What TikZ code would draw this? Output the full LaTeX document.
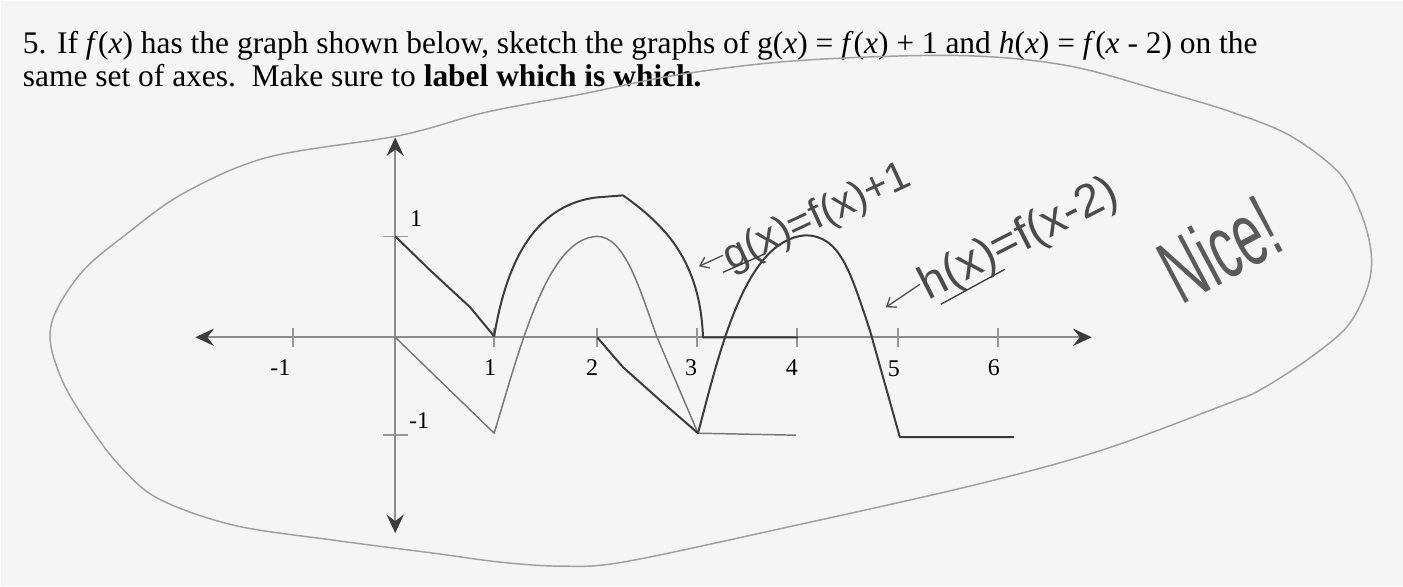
\documentclass[tikz,border=0pt]{standalone}
\usepackage{fontspec}
\setmainfont{Liberation Serif}
\newfontfamily\handfont{Liberation Sans}
\usetikzlibrary{arrows.meta}

\tikzset{every picture/.style={line width=0.75pt}}
\tikzset{
  axisline/.style={color={rgb, 255:red, 140; green, 140; blue, 140 }, line width=1.5pt,
    {Stealth[length=14pt,width=13pt,inset=5pt,color={rgb, 255:red, 60; green, 60; blue, 60 }]}-{Stealth[length=14pt,width=13pt,inset=5pt,color={rgb, 255:red, 60; green, 60; blue, 60 }]}},
  tickline/.style={color={rgb, 255:red, 150; green, 150; blue, 150 }, line width=1.2pt},
  fcurve/.style={color={rgb, 255:red, 120; green, 120; blue, 120 }, line width=1.1pt, line join=round},
  pencil/.style={color={rgb, 255:red, 60; green, 60; blue, 60 }, line width=1.5pt, line join=round},
  pointer/.style={color={rgb, 255:red, 80; green, 80; blue, 80 }, line width=1pt, -{Straight Barb[length=6pt,width=9pt]}},
  loopline/.style={color={rgb, 255:red, 160; green, 160; blue, 160 }, line width=1.1pt},
  ticklabel/.style={inner sep=0.75pt, font=\fontsize{18}{21}\selectfont},
  handnote/.style={inner sep=0pt, anchor=base west, color={rgb, 255:red, 75; green, 75; blue, 75 }, font=\handfont\fontsize{31}{34}\selectfont}
}

\begin{document}
\begin{tikzpicture}[x=0.75pt,y=0.75pt,yscale=-1,xscale=1]
	%Shape: Rectangle [paper]
	\draw [draw opacity=0][fill={rgb, 255:red, 245; green, 245; blue, 245 }, fill opacity=1 ] (0,0) -- (1403,0) -- (1403,586) -- (0,586) -- cycle ;

	% Text Node
	\draw (22,53) node [anchor=base west][inner sep=0pt] (line1) {\fontsize{23.6}{27}\selectfont 5. If \textit{f}(\textit{x}) has the graph shown below, sketch the graphs of g(\textit{x}) = \textit{f}(\textit{x}) + 1 and \textit{h}(\textit{x}) = \textit{f}(\textit{x} - 2) on the};
	% Text Node
	\draw (22,86) node [anchor=base west][inner sep=0pt] (line2) {\fontsize{23.6}{27}\selectfont same set of axes.\ \ Make sure to \textbf{label which is which.}};

	%Shape: Loop [teacher]
	\draw [loopline] plot [smooth cycle, tension=0.55] coordinates {(400,135) (485,112) (580,94) (680,74) (800,60) (957,55) (1067,65) (1167,92) (1233,112) (1290,135) (1340,173) (1363,217) (1372,257) (1367,290) (1347,327) (1307,360) (1260,390) (1229,403) (1102,450) (974,485) (783,528) (623,562) (560,566) (500,562) (433,553) (333,540) (233,525) (157,498) (117,463) (87,423) (63,383) (50,343) (55,312) (83,270) (127,233) (183,193) (267,157)};

	%Axes
	\coordinate (xl) at (195,337) ;
	\coordinate (xr) at (1092,337) ;
	\coordinate (yt) at (395,137) ;
	\coordinate (yb) at (395,533) ;
	\draw [axisline] (xl) -- (xr) ;
	\draw [axisline] (yb) -- (yt) ;
	%Ticks
	\foreach \tx in {293,494,597,697,797,898,998} {
		\draw [tickline] (\tx,328) -- (\tx,347) ;
	}
	\draw [tickline] (383,236) -- (408,236) ;
	\draw [tickline] (383,435) -- (408,435) ;

	% Text Node
	\draw (280,367) node [ticklabel] (lm1) {-1};
	\draw (490,367) node [ticklabel] (l1) {1};
	\draw (592,367) node [ticklabel] (l2) {2};
	\draw (691,367) node [ticklabel] (l3) {3};
	\draw (792,367) node [ticklabel] (l4) {4};
	\draw (894,369) node [ticklabel] (l5) {5};
	\draw (994,367) node [ticklabel] (l6) {6};
	\draw (416,218) node [ticklabel] (ly1) {1};
	\draw (419,420) node [ticklabel] (lym1) {-1};

	%Curve f
	\draw [fcurve] (395,337) -- (494,433) .. controls (522,340) and (548,238) .. (597,236) .. controls (625,236) and (640,290) .. (657,337) -- (698,433) -- (796,435) ;
	%Curve g = f + 1
	\draw [pencil] (395,236) -- (430,270) -- (470,307) -- (494,336) .. controls (505,270) and (530,205) .. (597,197) -- (623,195) .. controls (665,225) and (700,260) .. (703,337) -- (798,337) ;
	%Curve h = f(x-2)
	\draw [pencil] (597,337) -- (623,367) -- (660,400) -- (698,433) .. controls (720,350) and (745,240) .. (805,235) .. controls (840,235) and (850,270) .. (870,330) -- (900,437) -- (1014,437) ;

	% Handwritten labels
	\draw (730,270) node [handnote, rotate=25] (glabel) {g(x)=f(x)+1};
	\coordinate (gtip) at (699,266) ;
	\draw [pointer] (723,255) -- (gtip) ;
	\draw [pencil, line width=1pt] (723,272) -- (766,253) ;
	\draw (928,300) node [handnote, rotate=27, font=\handfont\fontsize{35}{38}\selectfont] (hlabel) {h(x)=f(x-2)};
	\coordinate (htip) at (886,307) ;
	\draw [pointer] (920,284) -- (htip) ;
	\draw [pencil, line width=1pt] (941,304) -- (1005,269) ;
	\draw (1220,248) node [handnote, anchor=center, rotate=28, color={rgb, 255:red, 90; green, 90; blue, 90 }, font=\handfont\fontsize{68}{74}\selectfont] (nice) {\scalebox{0.58}[1]{Nice!}};

\end{tikzpicture}
\end{document}
